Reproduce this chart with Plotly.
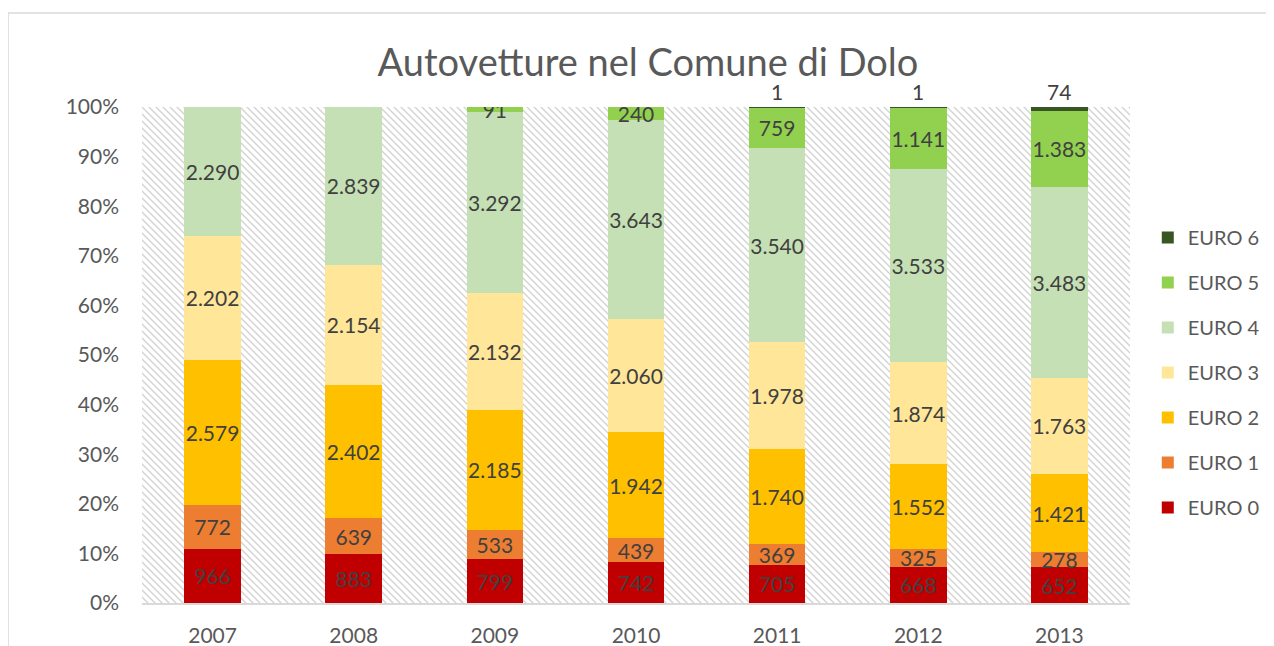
import base64
import plotly.graph_objects as go

years = ["2007", "2008", "2009", "2010", "2011", "2012", "2013"]
classes = ["EURO 0", "EURO 1", "EURO 2", "EURO 3", "EURO 4", "EURO 5", "EURO 6"]

euro0 = [966, 883, 799, 742, 705, 668, 652]
euro1 = [772, 639, 533, 439, 369, 325, 278]
euro2 = [2579, 2402, 2185, 1942, 1740, 1552, 1421]
euro3 = [2202, 2154, 2132, 2060, 1978, 1874, 1763]
euro4 = [2290, 2839, 3292, 3643, 3540, 3533, 3483]
euro5 = [0, 0, 91, 240, 759, 1141, 1383]
euro6 = [0, 0, 0, 0, 1, 1, 74]

colors = ["#C00000", "#ED7D31", "#FFC000", "#FFE699", "#C5E0B4", "#92D050", "#375623"]

FONT = "Lato"
GREY = "#595959"
LABEL = "#404040"


def fmt(v):
    # italian thousands separator
    return f"{v:,}".replace(",", ".") if v else ""


series = [euro0, euro1, euro2, euro3, euro4, euro5, euro6]

fig = go.Figure()
for i, (name, vals, col) in enumerate(zip(classes, series, colors)):
    labels = [fmt(v) for v in vals] if name != "EURO 6" else [""] * len(vals)
    fig.add_trace(go.Bar(
        x=years, y=vals, name=name, legendgroup=name,
        legendrank=len(classes) - i,
        marker=dict(color=col, line=dict(width=0)),
        text=labels, texttemplate="%{text}",
        textposition="inside", insidetextanchor="middle",
        textangle=0, constraintext="none",
        textfont=dict(family=FONT, size=21, color=LABEL),
        width=0.4,
    ))

# the tiny EURO 6 values sit above the bars (category axis -> index positions)
for idx, v in enumerate(euro6):
    if v:
        fig.add_annotation(x=idx, y=100, text=fmt(v), showarrow=False,
                           yshift=16, font=dict(family=FONT, size=21, color=LABEL))

# hatched plot background
svg = (
    '<svg xmlns="http://www.w3.org/2000/svg" width="988" height="496">'
    '<defs><pattern id="h" patternUnits="userSpaceOnUse" width="7" height="7">'
    '<path d="M0,0 L7,7 M-1,6 L1,8 M6,-1 L8,1" stroke="#D3D3D3" stroke-width="1.4"/>'
    '</pattern></defs><rect width="988" height="496" fill="white"/>'
    '<rect width="988" height="496" fill="url(#h)"/></svg>'
)
src = "data:image/svg+xml;base64," + base64.b64encode(svg.encode()).decode()
fig.add_layout_image(source=src, xref="paper", yref="paper", x=0, y=1,
                     sizex=1, sizey=1, sizing="stretch", layer="below",
                     xanchor="left", yanchor="top")

# chart area border
fig.add_shape(type="rect", xref="paper", yref="paper",
              x0=-0.1356, y0=-0.3, x1=1.3, y1=1.1895,
              line=dict(color="#D9D9D9", width=1.5), layer="below")

# page body has an 8px margin, so the figure is a bit smaller than the window
fig.update_layout(
    width=1266, height=638,
    barmode="stack", barnorm="percent",
    plot_bgcolor="white", paper_bgcolor="white",
    margin=dict(l=134, r=144, t=99, b=43, autoexpand=False),
    title=dict(text="Autovetture nel Comune di Dolo", x=0.5055, xref="container",
               y=0.915, yanchor="middle",
               font=dict(family=FONT, size=38, color=GREY)),
    font=dict(family=FONT, color=GREY),
    xaxis=dict(type="category", showgrid=False, showline=True, linecolor="#D9D9D9",
               linewidth=1.5, ticks="", ticklabelstandoff=13, automargin=False,
               tickfont=dict(size=21, color=GREY)),
    yaxis=dict(range=[0, 100], dtick=10, ticksuffix="%", showgrid=False,
               zeroline=False, ticks="", ticklabelstandoff=22, automargin=False,
               tickfont=dict(size=21, color=GREY)),
    legend=dict(x=1.018, xanchor="left", y=0.776, yanchor="top",
                traceorder="grouped", tracegroupgap=16,
                font=dict(family=FONT, size=20, color=GREY),
                itemwidth=30),
    showlegend=True,
)

fig.write_html("out.html")
